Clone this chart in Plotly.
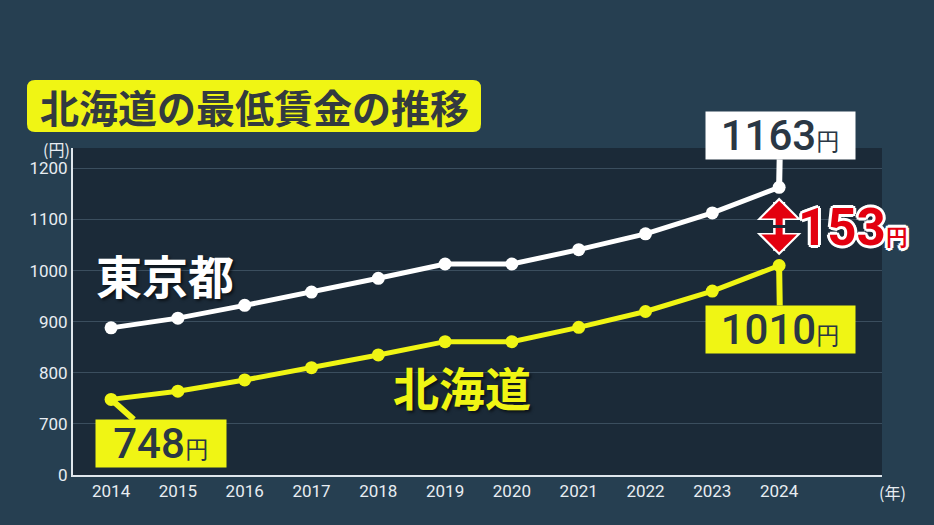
import plotly.graph_objects as go

years = [2014, 2015, 2016, 2017, 2018, 2019, 2020, 2021, 2022, 2023, 2024]
tokyo = [888, 907, 932, 958, 985, 1013, 1013, 1041, 1072, 1113, 1163]
hokkaido = [748, 764, 786, 810, 835, 861, 861, 889, 920, 960, 1010]
ytick_vals = [600, 700, 800, 900, 1000, 1100, 1200]
ytick_text = ["0", "700", "800", "900", "1000", "1100", "1200"]
title_text = "北海道の最低賃金の推移"

W, H = 934, 525
L, R, T, B = 73, 52, 148, 50
PW, PH = W - L - R, H - T - B

PAPER = "#263f51"
PLOT = "#1b2a38"
YELLOW = "#f0f514"
WHITE = "#ffffff"
DARK = "#2a3744"
RED = "#e3000f"
JP = "Noto Sans CJK JP"
NUM = "Roboto"


def px(x):
    return (x - L) / PW


def py(y):
    return (H - B - y) / PH


def rrect(x0, y0, x1, y1, r):
    X0, X1 = px(x0), px(x1)
    Y0, Y1 = py(y0), py(y1)
    rx, ry = r / PW, r / PH
    return (f"M {X0+rx},{Y0} L {X1-rx},{Y0} Q {X1},{Y0} {X1},{Y0-ry} "
            f"L {X1},{Y1+ry} Q {X1},{Y1} {X1-rx},{Y1} L {X0+rx},{Y1} "
            f"Q {X0},{Y1} {X0},{Y1+ry} L {X0},{Y0-ry} Q {X0},{Y0} {X0+rx},{Y0} Z")


fig = go.Figure()
fig.add_trace(go.Scatter(x=years, y=tokyo, mode="lines+markers",
                         line=dict(color=WHITE, width=5),
                         marker=dict(color=WHITE, size=13),
                         hoverinfo="skip", showlegend=False))
fig.add_trace(go.Scatter(x=years, y=hokkaido, mode="lines+markers",
                         line=dict(color=YELLOW, width=5),
                         marker=dict(color=YELLOW, size=13),
                         hoverinfo="skip", showlegend=False))

shapes = [dict(type="path", xref="paper", yref="paper",
               path=rrect(27, 80, 481, 132, 8),
               fillcolor=YELLOW, line=dict(width=0), layer="above")]

annotations = []
annotations.append(dict(xref="paper", yref="paper", x=px(254), y=py(106),
                        text=f"<b>{title_text}</b>", showarrow=False,
                        font=dict(family=JP, size=39, color="#333a40"),
                        xanchor="center", yanchor="middle"))
annotations.append(dict(xref="paper", yref="paper", x=px(56), y=py(149),
                        text="(円)", showarrow=False,
                        font=dict(family=JP, size=16, color="#e8edf2"),
                        xanchor="center", yanchor="middle"))
annotations.append(dict(xref="paper", yref="paper", x=px(892), y=py(492),
                        text="(年)", showarrow=False,
                        font=dict(family=JP, size=16, color="#e8edf2"),
                        xanchor="center", yanchor="middle"))
annotations.append(dict(xref="paper", yref="paper", x=px(165), y=py(274),
                        text="<b>東京都</b>", showarrow=False,
                        font=dict(family=JP, size=46, color=WHITE,
                                  shadow="2px 2px 3px rgba(0,0,0,0.6)"),
                        xanchor="center", yanchor="middle"))
annotations.append(dict(xref="paper", yref="paper", x=px(462), y=py(386),
                        text="<b>北海道</b>", showarrow=False,
                        font=dict(family=JP, size=46, color=YELLOW,
                                  shadow="2px 2px 3px rgba(0,0,0,0.6)"),
                        xanchor="center", yanchor="middle"))


def value_label(x, y, color, ax, ay, w):
    return dict(x=x, y=y, xref="x", yref="y",
                text=f"{y}<span style='font-size:24px'>円</span>",
                font=dict(family=NUM, size=42, color=DARK, weight=500),
                bgcolor=color, borderpad=0, width=w, height=47, valign="middle",
                showarrow=True, arrowhead=0, arrowwidth=6, arrowcolor=color,
                ax=ax, ay=ay, standoff=4)


annotations.append(value_label(years[0], hokkaido[0], YELLOW, 50, 44, 130))
annotations.append(value_label(years[-1], hokkaido[-1], YELLOW, 1, 64, 149))
annotations.append(value_label(years[-1], tokyo[-1], WHITE, 1, -52, 149))

diff = tokyo[-1] - hokkaido[-1]
mid = (tokyo[-1] + hokkaido[-1]) / 2
# double arrow (two arrows pointing outward from the middle), white outline under red
for col, w, s, inset in [(WHITE, 12, 0.62, 20), (RED, 7, 0.85, 26)]:
    for tip in (tokyo[-1] - inset, hokkaido[-1] + inset):
        annotations.append(dict(x=years[-1], y=tip, xref="x", yref="y",
                                ax=years[-1], ay=mid, axref="x", ayref="y",
                                text="", showarrow=True, arrowhead=1,
                                arrowwidth=w, arrowsize=s, arrowcolor=col,
                                standoff=0, startstandoff=0))
outline = ",".join(f"{dx}px {dy}px 0 white" for dx, dy in
                   [(2, 0), (-2, 0), (0, 2), (0, -2), (2, 2), (-2, -2), (2, -2), (-2, 2),
                    (3, 0), (-3, 0), (0, 3), (0, -3)])
annotations.append(dict(xref="paper", yref="paper", x=px(796), y=py(227),
                        text=f"<b>{diff}</b><b><span style='font-size:22px'>円</span></b>",
                        showarrow=False,
                        font=dict(family=NUM, size=51, color=RED, shadow=outline),
                        xanchor="left", yanchor="middle"))

fig.update_layout(
    width=W, height=H,
    margin=dict(l=L, r=R, t=T, b=B),
    paper_bgcolor=PAPER, plot_bgcolor=PLOT,
    shapes=shapes, annotations=annotations,
    xaxis=dict(range=[2013.43, 2025.54], tickvals=years, ticktext=[str(y) for y in years],
               showgrid=False, zeroline=False, showline=True, linecolor="#dfe6ec",
               linewidth=2, ticks="", tickfont=dict(family=NUM, size=17, color="#e8edf2"),
               fixedrange=True),
    yaxis=dict(range=[600, 1240], tickvals=ytick_vals, ticktext=ytick_text,
               showgrid=True, gridcolor="#3b4e5e", gridwidth=1, zeroline=False,
               showline=True, linecolor="#dfe6ec", linewidth=2, ticks="",
               tickfont=dict(family=NUM, size=17, color="#e8edf2"), fixedrange=True),
    font=dict(family=NUM),
)

fig.write_html("out.html", config={"displayModeBar": False})
